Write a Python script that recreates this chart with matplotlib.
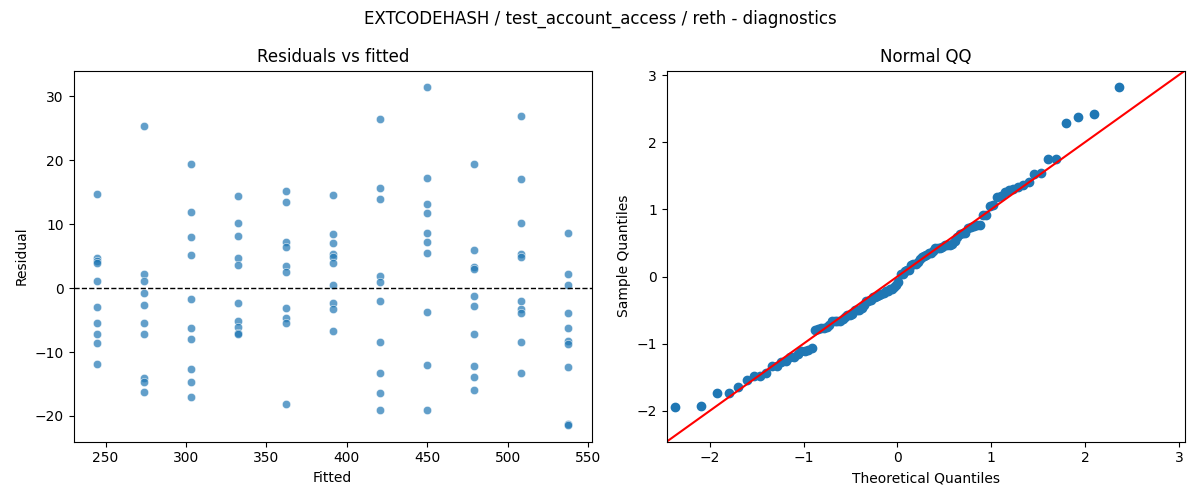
import numpy as np
import matplotlib
matplotlib.use("Agg")
import matplotlib.pyplot as plt
import seaborn as sns
from statistics import NormalDist

# fitted levels and residuals
fitted_levels = [244.7, 274.0, 303.3, 332.6, 361.9, 391.3, 420.6, 449.9, 479.2, 508.5, 537.8]
residuals_by_level = [
    [14.8, 4.7, 4.3, 3.9, 1.1, -3.0, -5.5, -7.2, -8.6, -11.8],
    [25.4, 2.2, 1.1, -0.8, -2.7, -5.5, -7.2, -14.1, -14.7, -16.3],
    [19.4, 11.9, 8.0, 5.2, -1.7, -6.3, -8.0, -12.7, -14.7, -17.0],
    [14.4, 10.2, 8.2, 4.7, 3.6, -2.3, -5.1, -6.1, -7.0, -7.2],
    [15.2, 13.4, 7.2, 6.5, 3.5, 2.5, -3.1, -4.6, -5.5, -18.1],
    [14.5, 8.4, 7.0, 5.3, 4.9, 3.9, 0.5, -2.3, -3.3, -6.7],
    [26.4, 15.6, 14.0, 1.9, 0.9, -2.0, -8.4, -13.3, -16.4, -19.1],
    [31.4, 17.2, 13.1, 11.7, 8.6, 7.2, 5.5, -3.8, -12.0, -19.1],
    [19.5, 5.9, 3.3, 3.0, -1.3, -2.8, -7.2, -12.2, -13.9, -15.9],
    [26.9, 17.0, 10.2, 5.3, 4.8, -2.0, -3.3, -3.9, -8.4, -13.3],
    [8.6, 2.2, 0.5, -3.9, -6.3, -8.3, -8.8, -12.3, -21.3, -21.4],
]

fitted = np.repeat(fitted_levels, [len(r) for r in residuals_by_level])
resid = np.concatenate([np.array(r) for r in residuals_by_level])

fig, (ax1, ax2) = plt.subplots(1, 2, figsize=(12, 5), dpi=100)

sns.scatterplot(x=fitted, y=resid, alpha=0.7, ax=ax1)
ax1.axhline(0, color="black", linestyle="--", linewidth=1)
ax1.set_title("Residuals vs fitted")
ax1.set_xlabel("Fitted")
ax1.set_ylabel("Residual")

# normal QQ of standardized residuals
n = len(resid)
sample_q = np.sort((resid - resid.mean()) / resid.std())
nd = NormalDist()
theo_q = np.array([nd.inv_cdf(i / (n + 1)) for i in range(1, n + 1)])

ax2.plot(theo_q, sample_q, "o", color="C0")
ax2.set_xmargin(0.02)
ax2.autoscale_view()
xl = ax2.get_xlim()
yl = ax2.get_ylim()
lo = min(xl[0], yl[0])
hi = max(xl[1], yl[1])
ax2.plot([lo, hi], [lo, hi], "r")
ax2.set_xlim(lo, hi)
ax2.set_ylim(lo, hi)
ax2.set_title("Normal QQ")
ax2.set_xlabel("Theoretical Quantiles")
ax2.set_ylabel("Sample Quantiles")

fig.suptitle("EXTCODEHASH / test_account_access / reth - diagnostics")
fig.tight_layout()
fig.savefig("out.png")
